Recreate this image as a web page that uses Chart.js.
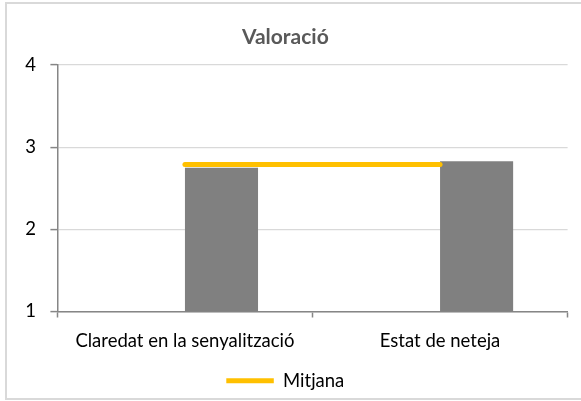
<!DOCTYPE html>
<html>
<head>
<meta charset="utf-8">
<script src="https://cdn.jsdelivr.net/npm/chart.js@4.4.0/dist/chart.umd.min.js"></script>
<style>
  html, body { margin: 0; padding: 0; background: #fff; overflow: hidden; }
  /* marc gris de l'àrea del gràfic */
  #marc { position: absolute; left: 5px; top: 2px; width: 600px; height: 398px; border: 2px solid #d9d9d9; box-sizing: border-box; }
  #caixa { position: absolute; left: 0; top: 0; width: 581px; height: 401px; }
</style>
</head>
<body>
<div id="marc"></div>
<div id="caixa"><canvas id="grafic" width="581" height="401"></canvas></div>
<script>
// Dades del gràfic
const categories = ['Claredat en la senyalització', 'Estat de neteja'];
const sèrieBuida = [null, null];      // sèrie sense valors, ocupa la primera posició de cada grup
const valoracio = [2.75, 2.83];
const mitjana = [2.79, 2.79];
const eixY = { min: 1, max: 4, pas: 1 };

const FONT = 'Lato';
const GRIS_EIX = '#868686';

const ctx = document.getElementById('grafic').getContext('2d');

window.graficValoracio = new Chart(ctx, {
    data: {
        labels: categories,
        datasets: [
            {
                type: 'bar',
                label: '',
                data: sèrieBuida,
                backgroundColor: '#808080',
                order: 1
            },
            {
                type: 'bar',
                label: 'Valoració',
                data: valoracio,
                backgroundColor: '#808080',
                borderWidth: 0,
                order: 1
            },
            {
                type: 'line',
                label: 'Mitjana',
                data: mitjana,
                borderColor: '#FFC000',
                backgroundColor: '#FFC000',
                borderWidth: 5,
                borderCapStyle: 'round',
                pointRadius: 0,
                fill: false,
                order: 0
            }
        ]
    },
    options: {
        responsive: false,
        animation: false,
        devicePixelRatio: 1,
        layout: {
            padding: { left: 3, right: 13.4, top: 0, bottom: 1 }
        },
        datasets: {
            bar: {
                categoryPercentage: 0.573,
                barPercentage: 1
            }
        },
        plugins: {
            title: {
                display: true,
                text: 'Valoració',
                color: '#595959',
                font: { family: FONT, size: 21, weight: 'bold' },
                padding: { top: 25, bottom: 14.8 }
            },
            legend: {
                position: 'bottom',
                labels: {
                    filter: function(item) {
                        return item.datasetIndex === 2;
                    },
                    usePointStyle: true,
                    pointStyle: 'line',
                    pointStyleWidth: 47.5,
                    color: '#000',
                    padding: 10,
                    font: { family: FONT, size: 18.5 }
                }
            },
            tooltip: { enabled: false }
        },
        scales: {
            x: {
                grid: {
                    offset: true,
                    drawOnChartArea: false,
                    tickLength: 6,
                    tickColor: GRIS_EIX,
                    tickWidth: 1.5
                },
                border: { color: GRIS_EIX, width: 1.5 },
                ticks: {
                    color: '#000',
                    padding: 12,
                    maxRotation: 0,
                    font: { family: FONT, size: 18.5 }
                },
                afterFit: function(scale) {
                    scale.height = 50;
                }
            },
            y: {
                min: eixY.min,
                max: eixY.max,
                grid: {
                    color: '#d9d9d9',
                    lineWidth: 1.2,
                    tickLength: 7,
                    tickColor: GRIS_EIX,
                    tickWidth: 1.5
                },
                border: { color: GRIS_EIX, width: 1.5 },
                ticks: {
                    stepSize: eixY.pas,
                    color: '#000',
                    padding: 14.5,
                    font: { family: FONT, size: 18.5 }
                },
                afterFit: function(scale) {
                    scale.width = 54.4;
                }
            }
        }
    }
});
</script>
</body>
</html>
